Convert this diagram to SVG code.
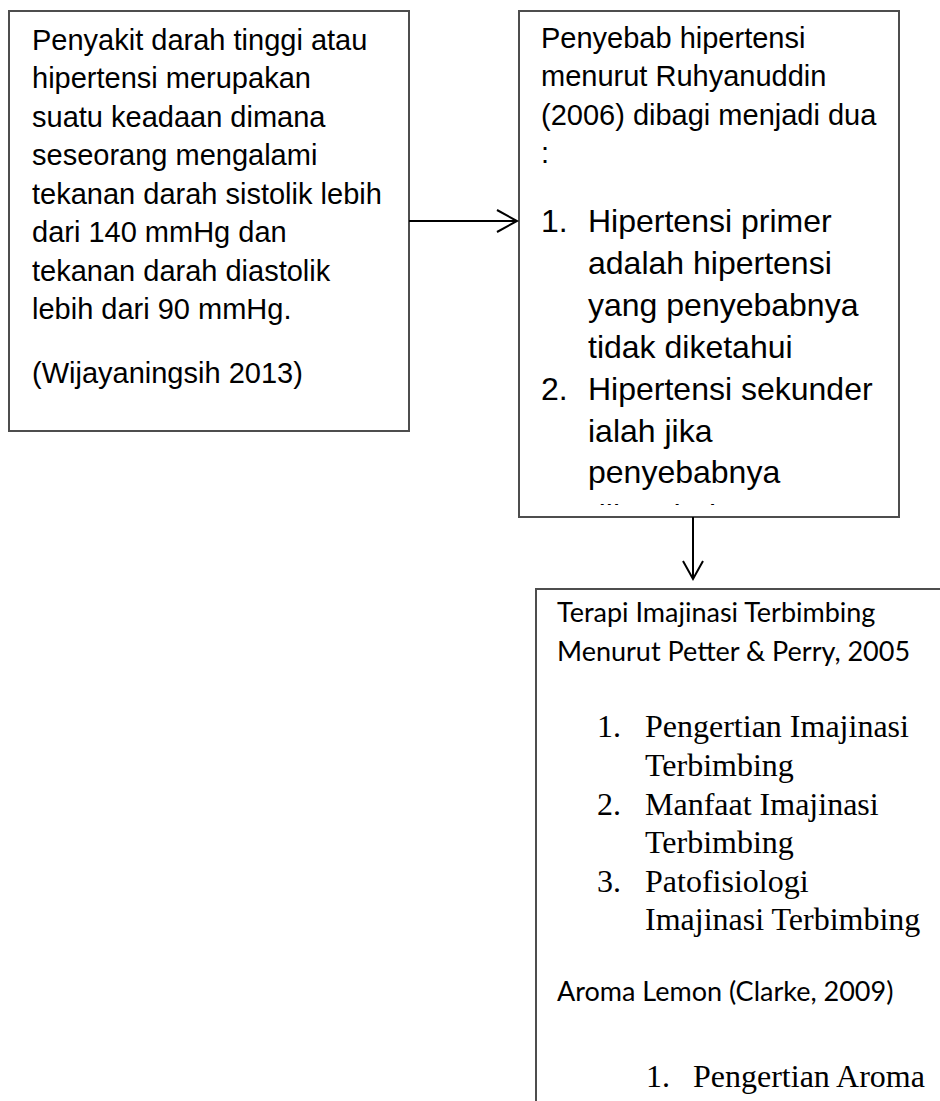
<svg xmlns="http://www.w3.org/2000/svg" width="940" height="1101" viewBox="0 0 940 1101">
<style>
.box{fill:#fff;stroke:#4d4d4d;stroke-width:2}
.ar{font-family:"Liberation Sans",Arial,sans-serif;fill:#000}
.a29{font-size:29px}
.a32{font-size:32px}
.cal{font-family:Lato,"Open Sans",sans-serif;font-size:27px;fill:#000}
.tnr{font-family:"Liberation Serif","Times New Roman",serif;font-size:32px;fill:#000}
.conn{stroke:#000;stroke-width:2;fill:none}
</style>
<defs>
<clipPath id="clip2"><rect x="519" y="11" width="380" height="494"/></clipPath>
</defs>
<rect width="940" height="1101" fill="#fff"/>
<g id="node-definisi">
<rect class="box" x="9" y="11" width="400" height="420"/>
<g class="ar a29">
<text x="32" y="50">Penyakit darah tinggi atau</text>
<text x="32" y="88">hipertensi merupakan</text>
<text x="32" y="127">suatu keadaan dimana</text>
<text x="32" y="165">seseorang mengalami</text>
<text x="32" y="204">tekanan darah sistolik lebih</text>
<text x="32" y="242">dari 140 mmHg dan</text>
<text x="32" y="281">tekanan darah diastolik</text>
<text x="32" y="319">lebih dari 90 mmHg.</text>
<text x="32" y="383">(Wijayaningsih 2013)</text>
</g>
</g>
<g id="node-penyebab">
<rect class="box" x="519" y="11" width="380" height="506"/>
<g clip-path="url(#clip2)">
<g class="ar a29">
<text x="541" y="48">Penyebab hipertensi</text>
<text x="541" y="86">menurut Ruhyanuddin</text>
<text x="541" y="125">(2006) dibagi menjadi dua</text>
<text x="541" y="163">:</text>
</g>
<g class="ar a32">
<text x="541" y="232">1.</text><text x="588" y="232">Hipertensi primer</text>
<text x="588" y="274">adalah hipertensi</text>
<text x="588" y="316">yang penyebabnya</text>
<text x="588" y="358">tidak diketahui</text>
<text x="541" y="400">2.</text><text x="588" y="400">Hipertensi sekunder</text>
<text x="588" y="442">ialah jika</text>
<text x="588" y="483">penyebabnya</text>
<text x="588" y="527">diketahui</text>
</g>
</g>
</g>
<g id="node-terapi">
<rect class="box" x="536" y="589" width="420" height="540"/>
<text class="cal" x="557" y="622">Terapi Imajinasi Terbimbing</text>
<text class="cal" x="557" y="661">Menurut Petter &amp; Perry, 2005</text>
<g class="tnr">
<text x="597" y="737">1.</text><text x="645" y="737">Pengertian Imajinasi</text>
<text x="645" y="776">Terbimbing</text>
<text x="597" y="815">2.</text><text x="645" y="815">Manfaat Imajinasi</text>
<text x="645" y="853">Terbimbing</text>
<text x="597" y="892">3.</text><text x="645" y="892">Patofisiologi</text>
<text x="645" y="930">Imajinasi Terbimbing</text>
</g>
<text class="cal" x="557" y="1001">Aroma Lemon (Clarke, 2009)</text>
<g class="tnr">
<text x="646" y="1087">1.</text><text x="693" y="1087">Pengertian Aroma</text>
</g>
</g>
<g id="connectors">
<line class="conn" x1="409" y1="221" x2="516" y2="221"/>
<polyline class="conn" points="497,210 517,221 497,232"/>
<line class="conn" x1="693" y1="517" x2="693" y2="578"/>
<polyline class="conn" points="683,561 693,579 703,561"/>
</g>
</svg>
